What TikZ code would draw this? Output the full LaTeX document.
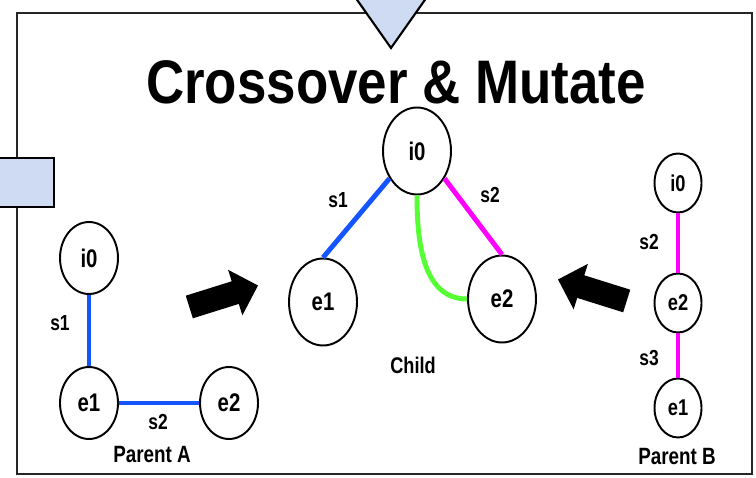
\documentclass[tikz,border=0pt]{standalone}
\usepackage{fontspec}
\setmainfont{Liberation Sans}[FakeStretch=0.86]
\newfontfamily\tagfont{Liberation Sans}[FakeStretch=0.8]
\usetikzlibrary{shapes.geometric,shapes.arrows}
\definecolor{paleblue}{RGB}{207,219,242}
\definecolor{genblue}{RGB}{20,85,255}
\definecolor{genpink}{RGB}{255,0,255}
\definecolor{gengreen}{RGB}{85,255,51}
\tikzset{
  gene/.style={ellipse, draw, line width=1.1pt, fill=white, inner sep=0pt,
    minimum width=1.16cm, minimum height=1.44cm, font=\tagfont\bfseries\fontsize{14.5}{16}\selectfont},
  childgene/.style={gene, minimum width=1.36cm, minimum height=1.74cm},
  smallgene/.style={gene, minimum width=0.94cm, minimum height=1.18cm,
    font=\tagfont\bfseries\fontsize{13}{15}\selectfont},
  link/.style={line width=2.8pt},
  lbl/.style={font=\tagfont\bfseries\fontsize{12.4}{14}\selectfont},
  caption/.style={font=\tagfont\bfseries\fontsize{13.4}{15}\selectfont},
  push/.style={single arrow, fill=black, inner sep=0.23cm,
    single arrow head extend=0.24cm, minimum height=1.44cm}
}
\begin{document}
\begin{tikzpicture}[x=0.02cm, y=0.02cm]
    \useasboundingbox (0, 0) rectangle (756, 477);
    \clip (0, 0) rectangle (756, 477);
    \fill[white] (0, 0) rectangle (756, 477);

    % frame and the steps around it
    \draw[black!85, line width=1.2pt] (17, 3) rectangle (752, 464);
    \filldraw[fill=paleblue, draw=black, line width=1.2pt] (348, 490) -- (434, 490) -- (391, 429) -- cycle;
    \filldraw[fill=paleblue, draw=black, line width=1.2pt] (-20, 270) rectangle (54, 319);
    \node[anchor=base, font=\bfseries\fontsize{35}{40}\selectfont] (title) at (396, 373) {Crossover \& Mutate};

    % parent A
    \node[gene] (ai0) at (89, 219) {i0};
    \node[gene] (ae1) at (89, 74) {e1};
    \node[gene] (ae2) at (229, 74) {e2};
    \draw[link, genblue] (ai0) -- (ae1);
    \draw[link, genblue] (ae1) -- (ae2);
    \node[lbl] (as1) at (60, 154) {s1};
    \node[lbl] (as2) at (158, 55) {s2};
    \node[caption] (capA) at (152, 22) {Parent A};

    % child
    \node[childgene] (ci0) at (417, 326) {i0};
    \node[childgene] (ce1) at (323, 175) {e1};
    \node[childgene] (ce2) at (502, 178) {e2};
    \draw[link, genblue] (ci0.225) -- (ce1.north);
    \draw[link, genpink] (ci0.315) -- (ce2.north);
    \draw[link, gengreen] (ci0.south) to[out=-90, in=180] (ce2.west);
    \node[lbl] (cs1) at (338, 277) {s1};
    \node[lbl] (cs2) at (490, 282) {s2};
    \node[caption, font=\tagfont\bfseries\fontsize{12.9}{15}\selectfont] (capC) at (413, 112) {Child};

    % parent B
    \node[smallgene] (bi0) at (678, 294) {i0};
    \node[smallgene] (be2) at (678, 174) {e2};
    \node[smallgene] (be1) at (678, 69) {e1};
    \draw[link, genpink] (bi0) -- (be2);
    \draw[link, genpink] (be2) -- (be1);
    \node[lbl] (bs2) at (649, 235) {s2};
    \node[lbl] (bs3) at (649, 119) {s3};
    \node[caption] (capB) at (677, 20) {Parent B};

    % hand-over arrows
    \node[push, rotate=17.4] (pushA) at (218, 179) {};
    \node[push, rotate=162.6] (pushB) at (598, 185) {};
\end{tikzpicture}
\end{document}
